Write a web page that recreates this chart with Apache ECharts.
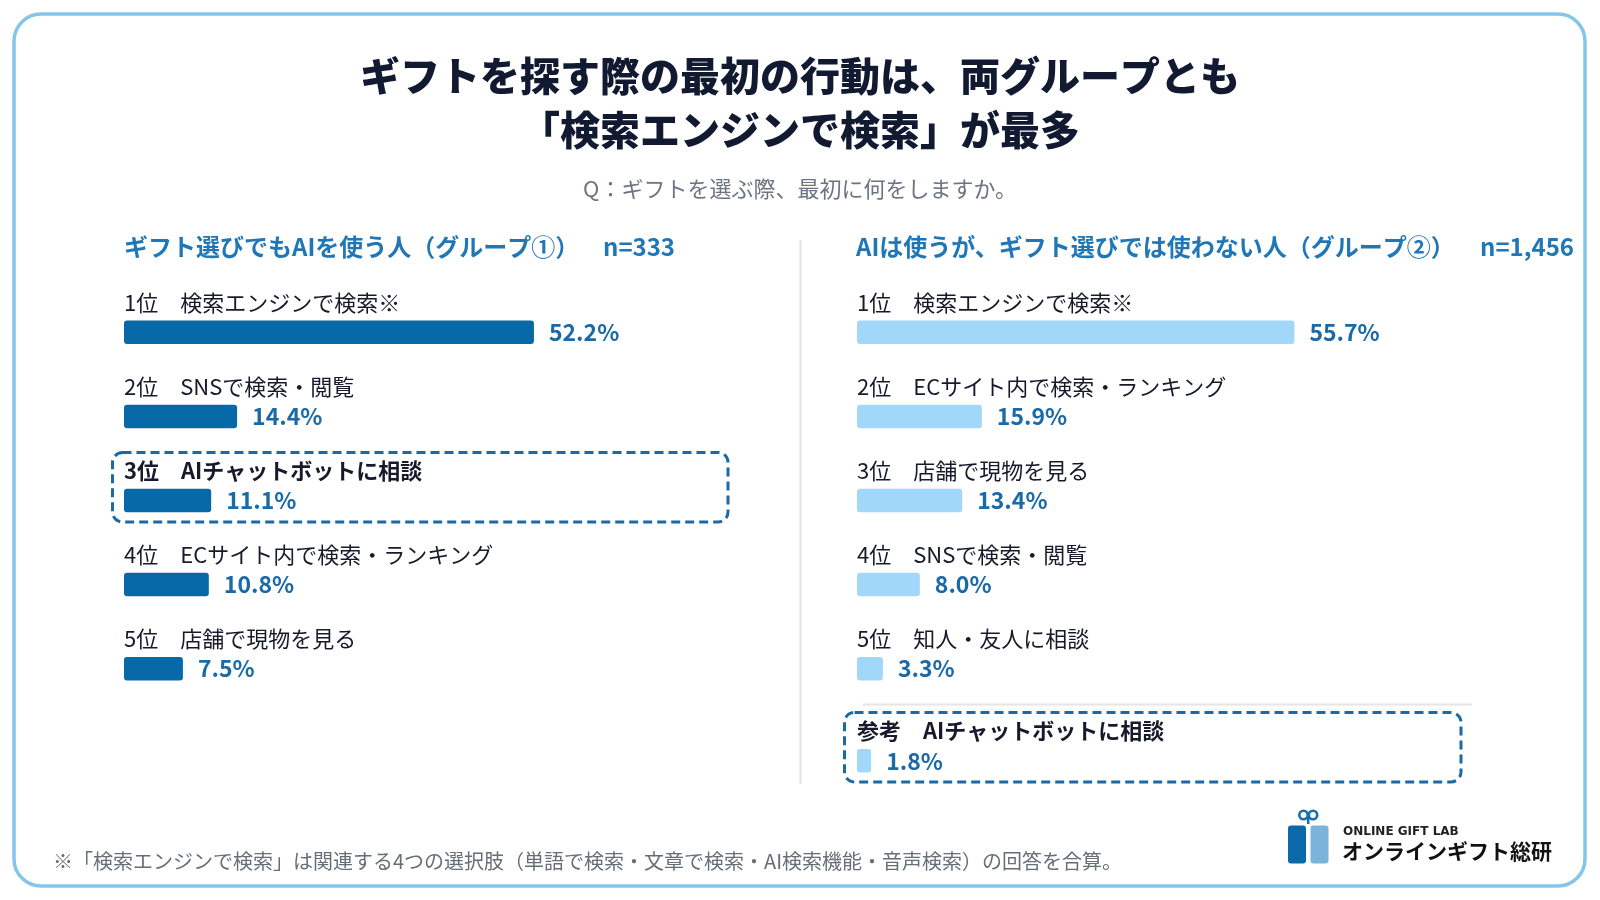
<!DOCTYPE html>
<html>
<head>
<meta charset="utf-8">
<script src="https://cdn.jsdelivr.net/npm/echarts@6/dist/echarts.min.js"></script>
<style>
html,body{margin:0;padding:0;background:#fff;}
#chart{width:1600px;height:900px;}
</style>
</head>
<body>
<div id="chart"></div>
<script>
// ---- data ----
const leftRanks = ['1位', '2位', '3位', '4位', '5位'];
const leftItems = ['検索エンジンで検索※', 'SNSで検索・閲覧', 'AIチャットボットに相談', 'ECサイト内で検索・ランキング', '店舗で現物を見る'];
const leftValues = [52.2, 14.4, 11.1, 10.8, 7.5];
const leftHighlight = [false, false, true, false, false];

const rightRanks = ['1位', '2位', '3位', '4位', '5位'];
const rightItems = ['検索エンジンで検索※', 'ECサイト内で検索・ランキング', '店舗で現物を見る', 'SNSで検索・閲覧', '知人・友人に相談'];
const rightValues = [55.7, 15.9, 13.4, 8.0, 3.3];
const rightHighlight = [false, false, false, false, false];

const refRanks = ['参考'];
const refItems = ['AIチャットボットに相談'];
const refValues = [1.8];
const refHighlight = [true];

const titleText = 'ギフトを探す際の最初の行動は、両グループとも\n「検索エンジンで検索」が最多';
const questionText = 'Q：ギフトを選ぶ際、最初に何をしますか。';
const leftHeader = 'ギフト選びでもAIを使う人（グループ①）';
const leftN = 'n=333';
const rightHeader = 'AIは使うが、ギフト選びでは使わない人（グループ②）';
const rightN = 'n=1,456';
const footnoteText = '※「検索エンジンで検索」は関連する4つの選択肢（単語で検索・文章で検索・AI検索機能・音声検索）の回答を合算。';

// ---- styles ----
const FONT = '"Noto Sans CJK JP", "Noto Sans", sans-serif';
const LEFT_BAR = '#0869a8';
const RIGHT_BAR = '#a1d8fa';
const VALUE_COLOR = '#1a6aa8';
const HEADER_COLOR = '#1f77b8';
const TEXT_DARK = '#161a2a';
const BAR_W = 23.5;

function catNames(ranks, items) {
  return ranks.map((r, i) => r + '　' + items[i]);
}

function yAxisFor(gridIndex, ranks, items) {
  return {
    type: 'category', gridIndex: gridIndex, inverse: true,
    data: catNames(ranks, items),
    axisLine: { show: false }, axisTick: { show: false }, splitLine: { show: false },
    axisLabel: { show: false }
  };
}

function nameSeries(idx, values, hl) {
  return {
    type: 'bar', xAxisIndex: idx, yAxisIndex: idx, barWidth: BAR_W, barGap: '-100%', silent: true,
    data: values.map((v, i) => ({
      value: v,
      label: { fontWeight: hl[i] ? 'bold' : 'normal' }
    })),
    itemStyle: { color: 'rgba(0,0,0,0)' },
    label: {
      show: true, position: [0, -29], align: 'left', verticalAlign: 'top',
      formatter: p => p.name,
      fontSize: 22, lineHeight: 22, color: TEXT_DARK, fontFamily: FONT
    },
    z: 3
  };
}

function barSeries(idx, values, color) {
  return {
    type: 'bar', xAxisIndex: idx, yAxisIndex: idx, data: values,
    barWidth: BAR_W, barGap: '-100%', silent: true,
    itemStyle: { color: color, borderRadius: 3 },
    label: {
      show: true, position: 'right', distance: 15,
      formatter: p => p.value.toFixed(1) + '%',
      fontSize: 23, fontWeight: 'bold', color: VALUE_COLOR, fontFamily: FONT
    },
    z: 2
  };
}

const chart = echarts.init(document.getElementById('chart'), null, { renderer: 'canvas' });

function dashedBox(x, y, w, h) {
  return {
    type: 'rect', shape: { x: x, y: y, width: w, height: h, r: 10 }, z: 1,
    style: { fill: 'none', stroke: '#1a6aa6', lineWidth: 3, lineDash: [9, 5] }
  };
}

const headerStyle = { fontSize: 24, fontWeight: 'bold', color: HEADER_COLOR, lineHeight: 26, fontFamily: FONT };

const option = {
  backgroundColor: '#fff',
  animation: false,
  title: [
    { text: titleText, left: 'center', top: 49, padding: 0,
      textStyle: { fontSize: 40, fontWeight: 900, color: '#111a30', lineHeight: 54, fontFamily: FONT } },
    { text: questionText, left: 'center', top: 177, padding: 0,
      textStyle: { fontSize: 22, fontWeight: 'normal', color: '#6b7480', lineHeight: 24, fontFamily: FONT } },
    { text: leftHeader, left: 124, top: 234, padding: 0, textStyle: headerStyle },
    { text: leftN, left: 603, top: 234, padding: 0, textStyle: headerStyle },
    { text: rightHeader, left: 856, top: 234, padding: 0, textStyle: headerStyle },
    { text: rightN, left: 1480, top: 234, padding: 0, textStyle: headerStyle },
    { text: footnoteText, left: 53, top: 850, padding: 0,
      textStyle: { fontSize: 20, fontWeight: 'normal', color: '#666e78', lineHeight: 22, fontFamily: FONT } }
  ],
  grid: [
    { left: 124, top: 290.25, width: 471.2, height: 420.5 },
    { left: 857, top: 290.25, width: 471.2, height: 420.5 },
    { left: 857, top: 718.8, width: 471.2, height: 84.1 }
  ],
  xAxis: [0, 1, 2].map(i => ({ type: 'value', gridIndex: i, min: 0, max: 60, show: false })),
  yAxis: [
    yAxisFor(0, leftRanks, leftItems),
    yAxisFor(1, rightRanks, rightItems),
    yAxisFor(2, refRanks, refItems)
  ],
  series: [
    nameSeries(0, leftValues, leftHighlight),
    barSeries(0, leftValues, LEFT_BAR),
    nameSeries(1, rightValues, rightHighlight),
    barSeries(1, rightValues, RIGHT_BAR),
    nameSeries(2, refValues, refHighlight),
    barSeries(2, refValues, RIGHT_BAR)
  ],
  graphic: [
    { type: 'rect', z: -10, shape: { x: 14, y: 14, width: 1571, height: 872, r: 27 },
      style: { fill: '#fff', stroke: '#85c5ea', lineWidth: 3.5 } },
    { type: 'line', shape: { x1: 800.5, y1: 240, x2: 800.5, y2: 784 },
      style: { stroke: '#e2e2e2', lineWidth: 2 } },
    { type: 'line', shape: { x1: 863, y1: 704.5, x2: 1472, y2: 704.5 },
      style: { stroke: '#e3e5ea', lineWidth: 2 } },
    dashedBox(112.5, 452.5, 615.5, 69.5),
    dashedBox(844.5, 712.5, 616.5, 69.5),
    // logo
    { type: 'rect', shape: { x: 1288, y: 825.5, width: 18, height: 38, r: 3 }, style: { fill: '#0a69a8' } },
    { type: 'rect', shape: { x: 1310.5, y: 825.5, width: 18, height: 38, r: 3 }, style: { fill: '#7ab4da' } },
    { type: 'circle', shape: { cx: 1303.5, cy: 815, r: 4.2 }, style: { fill: 'none', stroke: '#1a6fad', lineWidth: 2.6 } },
    { type: 'circle', shape: { cx: 1313, cy: 815, r: 4.2 }, style: { fill: 'none', stroke: '#1a6fad', lineWidth: 2.6 } },
    { type: 'line', shape: { x1: 1308.2, y1: 817, x2: 1308.2, y2: 824 }, style: { stroke: '#1a6fad', lineWidth: 2.6 } },
    { type: 'text', x: 1343, y: 832, style: { text: 'ONLINE GIFT LAB', font: 'bold 12px "DejaVu Sans", sans-serif', fill: '#222', textVerticalAlign: 'middle' } },
    { type: 'text', x: 1342, y: 851, style: { text: 'オンラインギフト総研', font: 'bold 21px ' + FONT, fill: '#111', textVerticalAlign: 'middle' } }
  ]
};
chart.setOption(option);
</script>
</body>
</html>
